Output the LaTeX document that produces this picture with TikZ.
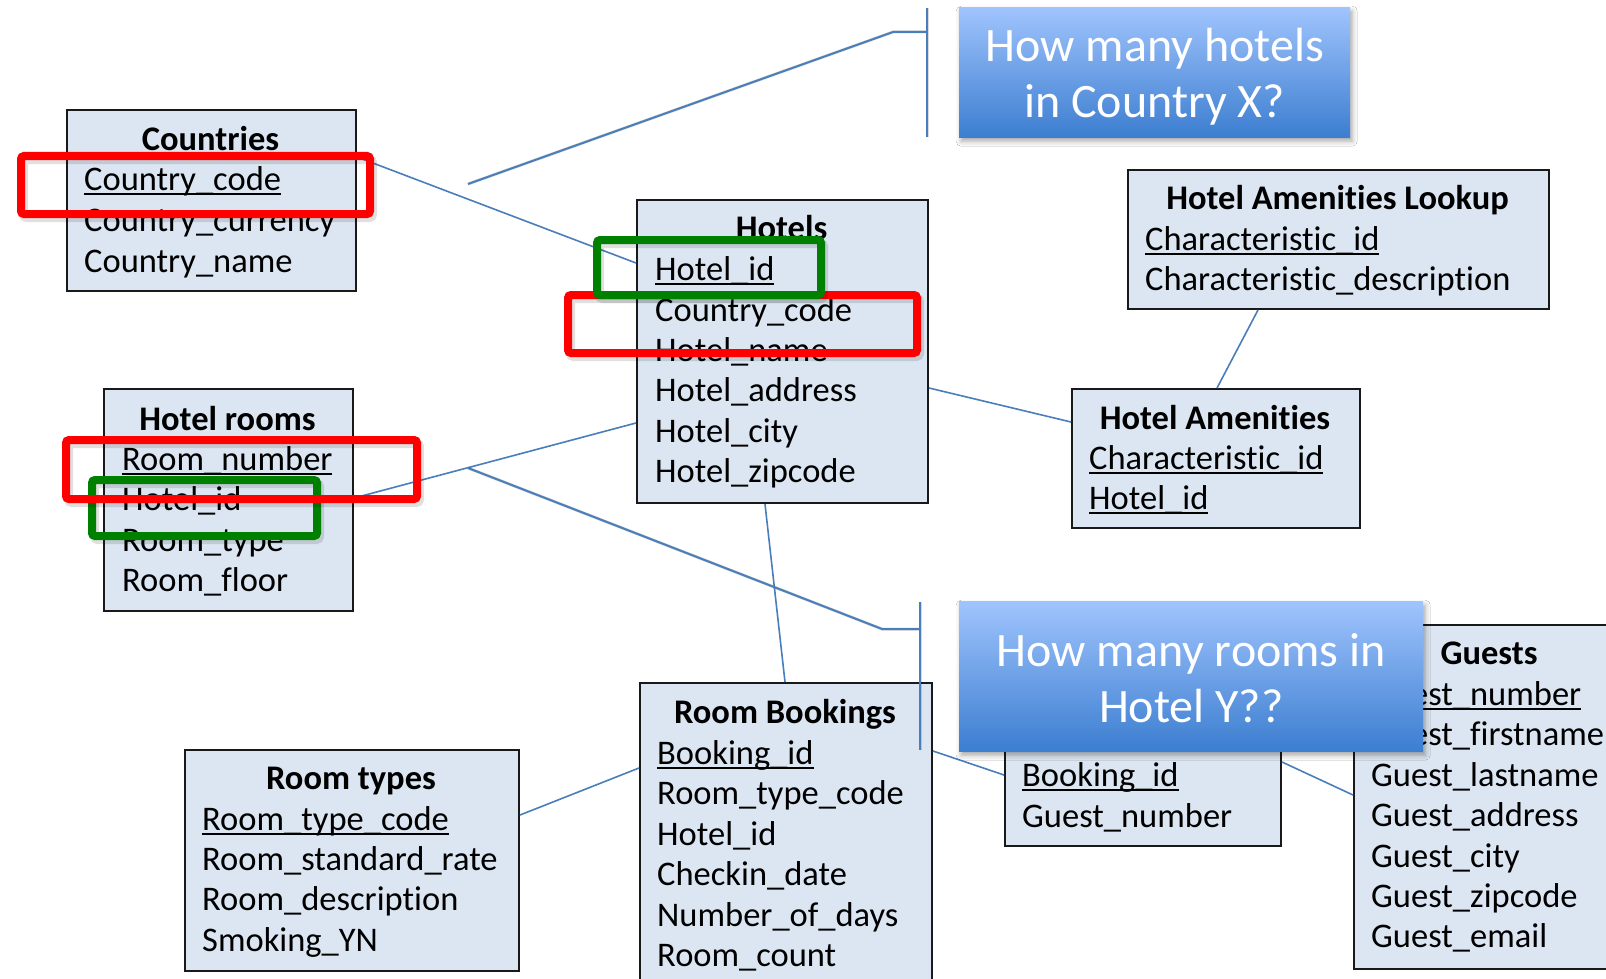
\documentclass[tikz,border=0pt]{standalone}
\usepackage{fontspec}
\setmainfont[Ligatures={NoCommon,NoRare,NoContextual}]{Carlito}
\usetikzlibrary{shadows.blur}
\definecolor{tblfill}{HTML}{DCE6F2}
\definecolor{conn}{HTML}{4A7EBB}
\definecolor{hlred}{HTML}{FF0000}
\definecolor{hlgreen}{HTML}{008000}
\definecolor{calltop}{HTML}{A0C4FD}
\definecolor{callbot}{HTML}{3C7ED0}
\newcommand\fldfont{\fontsize{34.5pt}{40pt}\selectfont}
\newcommand\callfont{\fontsize{48pt}{56pt}\selectfont}
\newcommand\keyfld[1]{\setbox0\hbox{#1}\rlap{\rule[-5pt]{\wd0}{2pt}}\box0}
\tikzset{
  tbl/.style={draw=black!90, line width=2pt, fill=tblfill, anchor=north west, inner sep=0pt},
  fld/.style={anchor=base west, inner sep=0pt, font=\fldfont, text=black},
  ttl/.style={anchor=base, inner sep=0pt, font=\fldfont\bfseries, text=black},
  link/.style={draw=conn, line width=1.6pt},
  hlbox/.style={draw=#1, line width=8pt, rounded corners=3pt, anchor=north west, inner sep=0pt},
  hlshadow/.style={draw=black, opacity=0.12, line width=9pt, rounded corners=3pt, anchor=north west, inner sep=0pt},
  callbox/.style={anchor=north west, inner sep=0pt, top color=calltop, bottom color=callbot, draw=none,
    blur shadow={shadow xshift=2pt, shadow yshift=-4pt, shadow opacity=35, shadow blur radius=5pt}},
  calltxt/.style={align=center, font=\callfont, text=white, inner sep=0pt},
  pointer/.style={draw=conn, line width=2pt},
  pointershadow/.style={draw=black, opacity=0.15, line width=3pt}
}
\begin{document}
\begin{tikzpicture}[x=1pt,y=-1pt]
\useasboundingbox (0,0) rectangle (1606,979);
\clip (0,0) rectangle (1606,979);
\fill[white] (0,0) rectangle (1606,979);

% ---------- table boxes ----------
\node[tbl, minimum width=289pt, minimum height=181pt] (countries) at (66,109) {};
\node[tbl, minimum width=291pt, minimum height=303pt] (hotels) at (636,199) {};
\node[tbl, minimum width=249pt, minimum height=222pt] (rooms) at (103,388) {};
\node[tbl, minimum width=292pt, minimum height=320pt] (bookings) at (639,682) {};
\node[tbl, minimum width=334pt, minimum height=221pt] (types) at (184,749) {};
\node[tbl, minimum width=421pt, minimum height=139pt] (lookup) at (1127,169) {};
\node[tbl, minimum width=288pt, minimum height=139pt] (amen) at (1071,388) {};
\node[tbl, minimum width=276pt, minimum height=155pt] (gbook) at (1004,690) {};
\node[tbl, minimum width=272pt, minimum height=344pt] (guests) at (1353,624) {};

% ---------- connectors ----------
\draw[link] ([yshift=-48pt]countries.north east) -- ([yshift=-64pt]hotels.north west);
\draw[link] ([yshift=-110pt]rooms.north east) -- ([yshift=-224pt]hotels.north west);
\draw[link] ([yshift=-189pt]hotels.north east) -- ([yshift=-34pt]amen.north west);
\draw[link] ([xshift=131pt]lookup.south west) -- ([xshift=146pt]amen.north west);
\draw[link] ([xshift=129pt]hotels.south west) -- ([xshift=146pt]bookings.north west);
\draw[link] ([yshift=-66pt]types.north east) -- ([yshift=-86pt]bookings.north west);
\draw[link] ([yshift=-69pt]bookings.north east) -- ([yshift=-85pt]gbook.north west);
\draw[link] ([yshift=-72pt]gbook.north east) -- ([yshift=-171pt]guests.north west);

% ---------- table texts ----------
\node[ttl] (countries-t) at (210.5,150) {Countries};
\node[fld] (countries-1) at (84,190) {\keyfld{Country\_code}};
\node[fld] (countries-2) at (84,231) {Country\_currency};
\node[fld] (countries-3) at (84,272) {Country\_name};

\node[ttl] (hotels-t) at (781.5,239) {Hotels};
\node[fld] (hotels-1) at (655,280) {\keyfld{Hotel\_id}};
\node[fld] (hotels-2) at (655,321) {Country\_code};
\node[fld] (hotels-3) at (655,361) {Hotel\_name};
\node[fld] (hotels-4) at (655,401) {Hotel\_address};
\node[fld] (hotels-5) at (655,442) {Hotel\_city};
\node[fld] (hotels-6) at (655,482) {Hotel\_zipcode};

\node[ttl] (rooms-t) at (227.5,430) {Hotel rooms};
\node[fld] (rooms-1) at (122,470) {\keyfld{Room\_number}};
\node[fld] (rooms-2) at (122,510) {Hotel\_id};
\node[fld] (rooms-3) at (122,551) {Room\_type};
\node[fld] (rooms-4) at (122,591) {Room\_floor};

\node[ttl] (bookings-t) at (785,723) {Room Bookings};
\node[fld] (bookings-1) at (657,764) {\keyfld{Booking\_id}};
\node[fld] (bookings-2) at (657,804) {Room\_type\_code};
\node[fld] (bookings-3) at (657,845) {Hotel\_id};
\node[fld] (bookings-4) at (657,885) {Checkin\_date};
\node[fld] (bookings-5) at (657,926) {Number\_of\_days};
\node[fld] (bookings-6) at (657,966) {Room\_count};

\node[ttl] (types-t) at (351,789) {Room types};
\node[fld] (types-1) at (202,830) {\keyfld{Room\_type\_code}};
\node[fld] (types-2) at (202,870) {Room\_standard\_rate};
\node[fld] (types-3) at (202,910) {Room\_description};
\node[fld] (types-4) at (202,951) {Smoking\_YN};

\node[ttl] (lookup-t) at (1337.5,209) {Hotel Amenities Lookup};
\node[fld] (lookup-1) at (1145,250) {\keyfld{Characteristic\_id}};
\node[fld] (lookup-2) at (1145,290) {Characteristic\_description};

\node[ttl] (amen-t) at (1215,429) {Hotel Amenities};
\node[fld] (amen-1) at (1089,469) {\keyfld{Characteristic\_id}};
\node[fld] (amen-2) at (1089,509) {\keyfld{Hotel\_id}};

\node[fld] (gbook-1) at (1022,786) {\keyfld{Booking\_id}};
\node[fld] (gbook-2) at (1022,827) {Guest\_number};

\node[ttl] (guests-t) at (1489,664) {Guests};
\node[fld] (guests-1) at (1371,705) {\keyfld{Guest\_number}};
\node[fld] (guests-2) at (1371,745) {Guest\_firstname};
\node[fld] (guests-3) at (1371,786) {Guest\_lastname};
\node[fld] (guests-4) at (1371,826) {Guest\_address};
\node[fld] (guests-5) at (1371,867) {Guest\_city};
\node[fld] (guests-6) at (1371,907) {Guest\_zipcode};
\node[fld] (guests-7) at (1371,947) {Guest\_email};

% ---------- highlight frames ----------
\node[hlshadow, minimum width=349pt, minimum height=58pt] (r1s) at (19,155) {};
\node[hlbox=hlred, minimum width=349pt, minimum height=58pt] (r1) at (17,152) {};
\node[hlshadow, minimum width=349pt, minimum height=58pt] (r2s) at (566,294) {};
\node[hlbox=hlred, minimum width=349pt, minimum height=58pt] (r2) at (564,291) {};
\node[hlshadow, minimum width=224pt, minimum height=55pt] (g1s) at (595,239) {};
\node[hlbox=hlgreen, minimum width=224pt, minimum height=55pt] (g1) at (593,236) {};
\node[hlshadow, minimum width=225pt, minimum height=56pt] (g2s) at (90,479) {};
\node[hlbox=hlgreen, minimum width=225pt, minimum height=56pt] (g2) at (88,476) {};
\node[hlshadow, minimum width=351pt, minimum height=59pt] (r3s) at (64,439) {};
\node[hlbox=hlred, minimum width=351pt, minimum height=59pt] (r3) at (62,436) {};

% ---------- callout pointers ----------
\coordinate (p1a) at (468,184);
\coordinate (p1b) at (893,32);
\coordinate (b1t) at (927,8);
\coordinate (b1b) at (927,137);
\coordinate (p2a) at (468,468);
\coordinate (p2b) at (882,629);
\coordinate (b2t) at (920,602);
\coordinate (b2b) at (920,750);
\begin{scope}[shift={(1.5,2.5)}]
\draw[pointershadow] (p1a) -- (p1b) -- (b1t |- p1b);
\draw[pointershadow] (b1t) -- (b1b);
\draw[pointershadow] (p2a) -- (p2b) -- (b2t |- p2b);
\draw[pointershadow] (b2t) -- (b2b);
\end{scope}
\draw[pointer] (p1a) -- (p1b) -- (b1t |- p1b);
\draw[pointer] (b1t) -- (b1b);
\draw[pointer] (p2a) -- (p2b) -- (b2t |- p2b);
\draw[pointer] (b2t) -- (b2b);

% ---------- callouts ----------
\node[callbox, minimum width=391pt, minimum height=130pt] (q1) at (959,7) {};
\node[calltxt] (q1t) at ([yshift=-5pt]q1.center) {How many hotels\\in Country X?};
\node[callbox, minimum width=464pt, minimum height=150pt] (q2) at (959,601) {};
\node[calltxt] (q2t) at ([yshift=-1.5pt]q2.center) {How many rooms in\\Hotel Y??};
\end{tikzpicture}
\end{document}
